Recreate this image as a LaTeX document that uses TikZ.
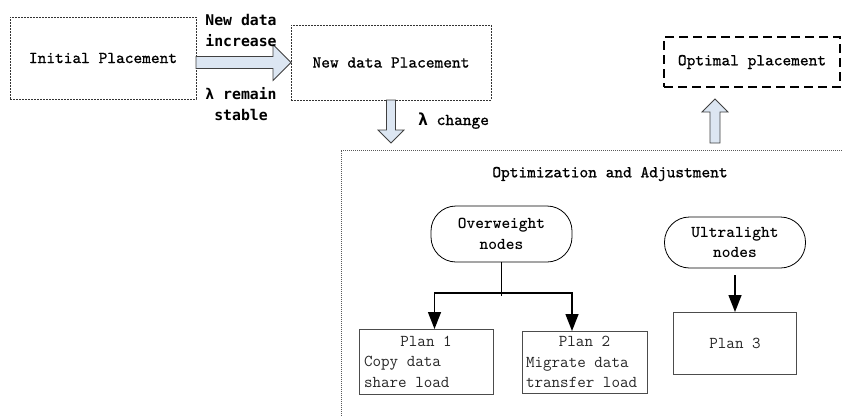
\documentclass[tikz,border=0pt]{standalone}
\usepackage{fontspec}
\newfontfamily\lblfont{DejaVu Sans Mono}
\newfontfamily\boxfont{lmmono10-regular.otf}[FakeBold=0.9]
\usetikzlibrary{arrows.meta,calc}
\definecolor{arrowfill}{HTML}{DCE6F2}
\tikzset{
  txt/.style={font=\fontsize{16.6}{20.5}\selectfont\boxfont},
  thintxt/.style={font=\fontsize{16.6}{20.5}\selectfont\ttfamily},
  boldtxt/.style={font=\fontsize{16.6}{20.5}\selectfont\ttfamily\bfseries},
  lbl/.style={font=\fontsize{14.8}{21}\selectfont\lblfont\bfseries},
  finedash/.style={draw=black!80, line width=0.8pt, dash pattern=on 2pt off 1pt},
  bigdash/.style={draw=black, line width=1.3pt, dash pattern=on 9pt off 5pt},
  plan/.style={draw=black!70, line width=0.9pt, text=black!85, thintxt},
  term/.style={draw, rounded corners=25pt, line width=0.8pt, boldtxt, align=center},
  block/.style={draw=black!75, fill=arrowfill, line width=0.8pt, line join=miter},
  conn/.style={line width=1.4pt},
  arr/.style={conn, -{Triangle[length=17pt,width=13pt]}},
}
\begin{document}
\begin{tikzpicture}[x=1pt,y=-1pt, every node/.style={inner sep=0pt, outer sep=0pt}]
\useasboundingbox (0,0) rectangle (842,415);

% top row boxes
\node[finedash, txt, minimum width=186pt, minimum height=82pt] (init) at (103,58) {Initial Placement};
\node[finedash, txt, minimum width=200pt, minimum height=75pt] (newp) at (391,62.5) {New data Placement};
\node[bigdash, txt, minimum width=176pt, minimum height=50pt] (opt) at (752,62) {Optimal placement};

% horizontal block arrow
\coordinate (hA) at (init.east |- newp.west);
\draw[block] (hA) ++(0,-6) -- ++(77,0) -- ++(0,-12) -- (newp.west) -- ++(-18,18) -- ++(0,-12) -- ++(-77,0) -- cycle;
\node[lbl, align=center] (l1) at (241,30) {New data\\increase};
\node[lbl, align=center] (l2) at (241,104) {λ remain\\stable};

% down block arrow
\draw[block] (newp.south) ++(-4.5,0) -- ++(0,30) -- ++(-8.5,0) -- ++(13,13) -- ++(13,-13) -- ++(-8.5,0) -- ++(0,-30) -- cycle;
\node[txt, anchor=base west] (l3) at (418,125) {{\lblfont\bfseries λ} change};

% up block arrow
\coordinate (ua) at (715,143);
\draw[block] (ua) ++(-5,0) -- ++(0,-31) -- ++(-8,0) -- ++(13,-13) -- ++(13,13) -- ++(-8,0) -- ++(0,31) -- cycle;

% big region
\draw[draw=black!65, line width=0.8pt, dash pattern=on 1pt off 1pt] (341,420) -- (341,150) -- (850,150);
\node[txt] (title) at (610,174) {Optimization and Adjustment};

% terminals
\node[term, minimum width=141pt, minimum height=56pt] (over) at (501.5,234) {Overweight\\nodes};
\node[term, minimum width=141pt, minimum height=51pt] (ultra) at (735,242.5) {Ultralight\\nodes};

% plans
\node[plan, minimum width=134pt, minimum height=65pt] (p1) at (426,361.5)
  {\parbox{124pt}{\centering Plan 1\par\raggedright Copy data\\share load}};
\node[plan, minimum width=125pt, minimum height=62pt] (p2) at (584.5,362)
  {\parbox{117pt}{\centering Plan 2\par\raggedright Migrate data\\transfer load}};
\node[plan, minimum width=123pt, minimum height=62pt] (p3) at (735,343) {Plan 3};

% connectors
\coordinate (j) at (501.5,293);
\coordinate (jt) at (501.5,296);
\draw[conn] (over.south) -- (jt);
\draw[arr] (j) -| ([xshift=8.5pt]p1.north);
\draw[arr] (j) -| ([xshift=-12.5pt]p2.north);
\draw[arr] ($(ultra.south)+(0,7)$) -- (p3.north);
\end{tikzpicture}
\end{document}
